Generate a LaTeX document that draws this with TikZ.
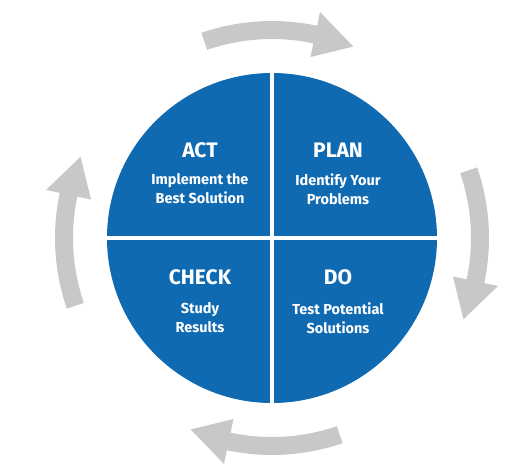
\documentclass[tikz,border=0pt]{standalone}
\usepackage{fontspec}
\setmainfont{Fira Sans}
\definecolor{pdcablue}{RGB}{16,106,178}
\definecolor{cyclegrey}{RGB}{200,200,200}
\begin{document}
\begin{tikzpicture}[x=1pt,y=1pt,
  heading/.style={text=white,font=\fontsize{21}{23}\selectfont\bfseries,inner sep=0pt},
  subtext/.style={text=white,font=\fontsize{14.5}{19}\selectfont\bfseries,align=center,inner sep=0pt},
  cyclearrow/.style={fill=cyclegrey,draw=none}]
\useasboundingbox (-272,-236) rectangle (255,238);
% disc
\fill[pdcablue] (0,0) circle[radius=165];
\draw[white,line width=4] (0,-166) -- (0,166);
\draw[white,line width=4] (-166,0) -- (166,0);
% cycle arrows
\foreach \r in {0,-90,-180,-270}{
  \fill[cyclearrow,rotate=\r]
    (109:217) arc[start angle=109,end angle=78,radius=217]
    -- (78:231) -- (67:208) -- (78:185) -- (78:199)
    arc[start angle=78,end angle=109,radius=199] -- cycle;
}
% texts
\node[heading] (act) at (-72,88) {ACT};
\node[subtext] (actsub) at (-72,49) {Implement the\\Best Solution};
\node[heading] (plan) at (66,88) {PLAN};
\node[subtext] (plansub) at (66,49) {Identify Your\\Problems};
\node[heading] (check) at (-72,-39) {CHECK};
\node[subtext] (checksub) at (-72,-80) {Study\\Results};
\node[heading] (do) at (66,-39) {DO};
\node[subtext] (dosub) at (66,-80) {Test Potential\\Solutions};
\end{tikzpicture}
\end{document}
